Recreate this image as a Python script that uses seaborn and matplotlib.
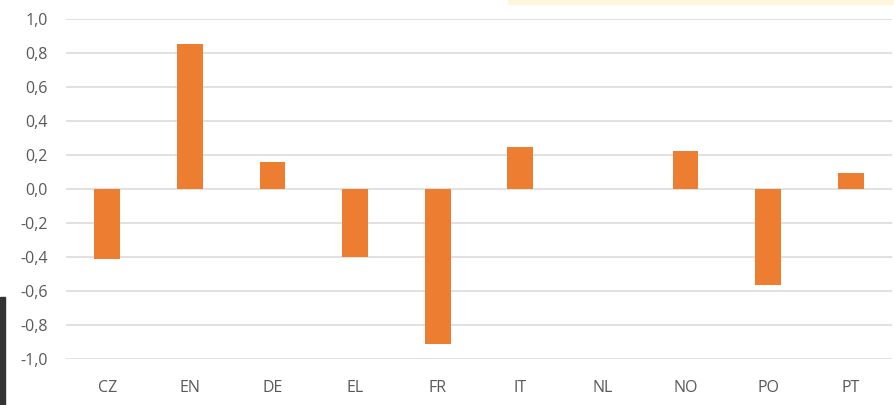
import numpy as np
import pandas as pd
import matplotlib
matplotlib.use("Agg")
import matplotlib.pyplot as plt
import seaborn as sns
from matplotlib.patches import Rectangle

# data
countries = ["CZ", "EN", "DE", "EL", "FR", "IT", "NL", "NO", "PO", "PT"]
values = [-0.41, 0.855, 0.16, -0.40, -0.91, 0.247, 0.0, 0.225, -0.565, 0.094]
y_ticks = [-1.0, -0.8, -0.6, -0.4, -0.2, 0.0, 0.2, 0.4, 0.6, 0.8, 1.0]

df = pd.DataFrame({"country": countries, "value": values})

sns.set_style("white")
plt.rcParams["font.family"] = ["Open Sans", "DejaVu Sans"]

fig = plt.figure(figsize=(8.95, 4.05), dpi=100)
ax = fig.add_axes([66 / 895, (405 - 359) / 405, (892 - 66) / 895, 340 / 405])

sns.barplot(data=df, x="country", y="value", color="#ED7D31", width=0.31,
            saturation=1, linewidth=0, ax=ax, zorder=3)

ax.set_ylim(-1.0, 1.0)
ax.set_yticks(y_ticks)
ax.set_yticklabels([f"{t:.1f}".replace(".", ",") for t in y_ticks])
ax.grid(axis="y", color="#D9D9D9", linewidth=1.1, zorder=0)
ax.set_axisbelow(True)
for s in ax.spines.values():
    s.set_visible(False)
ax.tick_params(axis="y", length=0, pad=13, labelsize=11.5, labelcolor="#595959")
ax.tick_params(axis="x", length=0, pad=15, labelsize=11.5, labelcolor="#595959")
ax.set_xlabel("")
ax.set_ylabel("")

# cropping remnants visible at the edges of the reference
fig.patches.append(Rectangle((508 / 895, 1 - 4 / 405), 1 - 508 / 895, 4 / 405,
                             transform=fig.transFigure, color="#FDF6DC", zorder=0))
fig.patches.append(Rectangle((0, 0), 5 / 895, (405 - 297) / 405,
                             transform=fig.transFigure, color="#333333", zorder=0))

fig.savefig("out.png", dpi=100)
